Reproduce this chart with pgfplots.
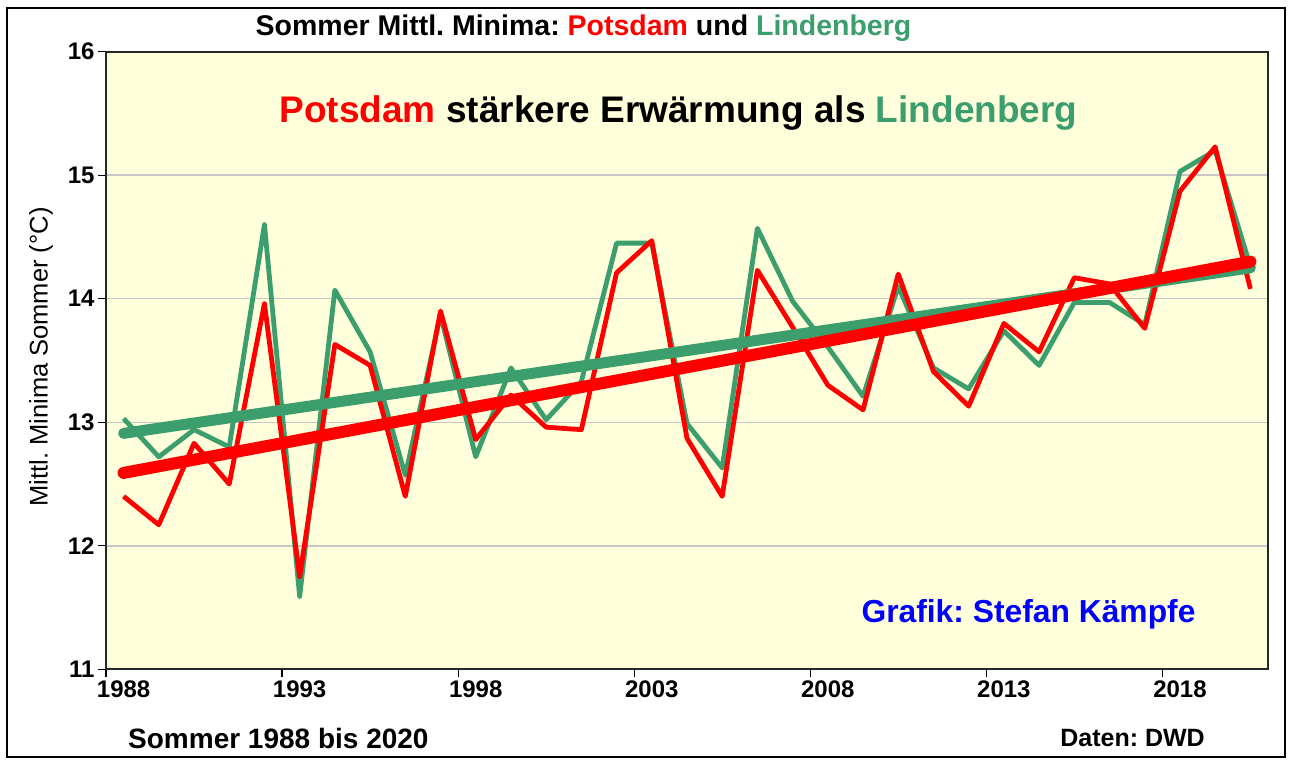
\documentclass[border=0pt]{standalone}
\usepackage{pgfplots}
\pgfplotsset{compat=1.18}
\usepackage{fontspec}
\setmainfont{Liberation Sans}
\definecolor{lgreen}{RGB}{60,158,108}
\definecolor{bgyel}{RGB}{255,255,220}
\newcommand{\fs}[1]{\fontsize{#1}{#1}\selectfont}
\frenchspacing
\begin{document}
\begin{tikzpicture}
\useasboundingbox (0pt,0pt) rectangle (1290pt,762pt);
\fill[white] (0pt,0pt) rectangle (1290pt,762pt);
\draw[black, line width=1.5pt] (7pt,5pt) rectangle (1285pt,754pt);
\begin{axis}[
  at={(106pt,92.7pt)}, anchor=south west,
  scale only axis, width=1162pt, height=617.6pt,
  xmin=1987.5, xmax=2020.5, ymin=11, ymax=16,
  axis background/.style={fill=bgyel},
  xtick={1987.5,1992.5,1997.5,2002.5,2007.5,2012.5,2017.5},
  xticklabels={1988,1993,1998,2003,2008,2013,2018},
  xticklabel style={xshift=17.6pt, font=\bfseries\fs{24}},
  ytick={11,12,13,14,15,16},
  yticklabel style={font=\bfseries\fs{24}},
  /pgf/number format/assume math mode=true,
  tick align=outside, xtick pos=bottom, ytick pos=left,
  major tick length=8pt,
  tick style={black, line width=1.2pt},
  ymajorgrids, grid style={color=black!22, line width=1.5pt},
  axis line style={line width=1.8pt, black!85},
  clip=true,
]
\addplot[lgreen, line width=4.8pt, line join=round] coordinates {
(1988,13.03) (1989,12.72) (1990,12.94) (1991,12.80) (1992,14.60)
(1993,11.59) (1994,14.07) (1995,13.57) (1996,12.57) (1997,13.87)
(1998,12.72) (1999,13.44) (2000,13.02) (2001,13.33) (2002,14.45)
(2003,14.45) (2004,12.99) (2005,12.63) (2006,14.57) (2007,13.98)
(2008,13.61) (2009,13.21) (2010,14.10) (2011,13.44) (2012,13.27)
(2013,13.74) (2014,13.46) (2015,13.97) (2016,13.97) (2017,13.79)
(2018,15.03) (2019,15.20) (2020,14.26)
};
\addplot[red, line width=4.8pt, line join=round] coordinates {
(1988,12.40) (1989,12.17) (1990,12.83) (1991,12.50) (1992,13.96)
(1993,11.75) (1994,13.63) (1995,13.46) (1996,12.40) (1997,13.90)
(1998,12.86) (1999,13.22) (2000,12.96) (2001,12.94) (2002,14.21)
(2003,14.47) (2004,12.87) (2005,12.40) (2006,14.23) (2007,13.77)
(2008,13.30) (2009,13.10) (2010,14.20) (2011,13.41) (2012,13.13)
(2013,13.80) (2014,13.57) (2015,14.17) (2016,14.12) (2017,13.76)
(2018,14.87) (2019,15.23) (2020,14.08)
};
\addplot[lgreen, line width=11pt, line cap=round] coordinates {(1988,12.91) (2020,14.25)};
\addplot[red, line width=12pt, line cap=round] coordinates {(1988,12.59) (2020,14.30)};
\end{axis}
\node[inner sep=0pt, font=\bfseries\fs{28.5}] at (583.5pt,734pt) {Sommer Mittl. Minima: \textcolor{red}{Potsdam} und \textcolor{lgreen}{Lindenberg}};
\node[inner sep=0pt, font=\bfseries\fs{37}] at (678.5pt,649pt) {\textcolor{red}{Potsdam} stärkere Erwärmung als \textcolor{lgreen}{Lindenberg}};
\node[inner sep=0pt, font=\bfseries\fs{31.8}, text=blue] at (1028.5pt,148pt) {Grafik: Stefan Kämpfe};
\node[inner sep=0pt, anchor=west, font=\bfseries\fs{28}] at (128pt,24pt) {Sommer 1988 bis 2020};
\node[inner sep=0pt, anchor=east, font=\bfseries\fs{25}] at (1205pt,24pt) {Daten: DWD};
\node[inner sep=0pt, rotate=90, font=\fs{25.5}] at (41pt,405pt) {Mittl. Minima Sommer (°C)};
\end{tikzpicture}
\end{document}
